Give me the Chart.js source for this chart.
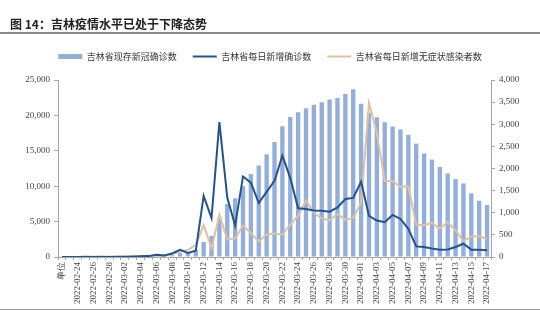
<!DOCTYPE html>
<html>
<head>
<meta charset="utf-8">
<script src="https://cdn.jsdelivr.net/npm/chart.js@4.4.0/dist/chart.umd.min.js"></script>
<style>
    body { margin: 0; background: #fff; }
    #box { position: relative; width: 540px; height: 320px; overflow: hidden; }
    #titolo { position: absolute; left: 10px; top: 15px; font: bold 12px "Noto Sans CJK SC", sans-serif; color: #222; z-index: 2; }
    .riga { position: absolute; left: 0; width: 540px; background: #8a8a8a; z-index: 2; }
</style>
</head>
<body>
<div id="box">
    <div id="titolo">图 14：吉林疫情水平已处于下降态势</div>
    <div class="riga" style="top:32px;height:2px;"></div>
    <div class="riga" style="top:309px;height:1px;background:#9a9a9a;"></div>
    <canvas id="grafico" width="540" height="320"></canvas>
</div>
<script>
// categorie (la prima è la riga "单位" della tabella originale)
var date = ["单位", "2022-02-23", "2022-02-24", "2022-02-25", "2022-02-26", "2022-02-27", "2022-02-28",
    "2022-03-01", "2022-03-02", "2022-03-03", "2022-03-04", "2022-03-05", "2022-03-06", "2022-03-07",
    "2022-03-08", "2022-03-09", "2022-03-10", "2022-03-11", "2022-03-12", "2022-03-13", "2022-03-14",
    "2022-03-15", "2022-03-16", "2022-03-17", "2022-03-18", "2022-03-19", "2022-03-20", "2022-03-21",
    "2022-03-22", "2022-03-23", "2022-03-24", "2022-03-25", "2022-03-26", "2022-03-27", "2022-03-28",
    "2022-03-29", "2022-03-30", "2022-03-31", "2022-04-01", "2022-04-02", "2022-04-03", "2022-04-04",
    "2022-04-05", "2022-04-06", "2022-04-07", "2022-04-08", "2022-04-09", "2022-04-10", "2022-04-11",
    "2022-04-12", "2022-04-13", "2022-04-14", "2022-04-15", "2022-04-16", "2022-04-17"];

// 吉林省现存新冠确诊数 (asse sinistro)
var esistenti = [null, 20, 20, 25, 25, 30, 30, 35, 40, 50, 60, 80, 100, 150,
    250, 550, 700, 1000, 2110, 2990, 5600, 7490, 8290, 10010, 11700, 12920, 14510, 16240,
    18480, 19780, 20450, 21010, 21490, 21850, 22230, 22470, 23030, 23680, 21630, 20370, 19750, 19040,
    18440, 18020, 17250, 16010, 14610, 13760, 12720, 11800, 11000, 10390, 8990, 7950, 7350];

// 吉林省每日新增确诊数 (asse destro)
var nuoviConfermati = [0, 2, 1, 3, 2, 4, 2, 5, 6, 10, 15, 20, 50, 35,
    80, 160, 90, 140, 1380, 880, 3050, 1345, 710, 1820, 1680, 1220, 1470, 1720,
    2290, 1790, 1100, 1085, 1050, 1045, 1025, 1120, 1310, 1335, 1700, 930, 823, 785,
    950, 860, 636, 240, 225, 190, 166, 170, 225, 300, 166, 166, 155];

// 吉林省每日新增无症状感染者数 (asse destro)
var nuoviAsintomatici = [0, 1, 2, 1, 3, 2, 4, 3, 5, 8, 10, 20, 35, 30,
    70, 120, 160, 270, 720, 200, 955, 400, 420, 711, 538, 352, 510, 530,
    505, 730, 930, 1280, 1000, 870, 830, 973, 838, 880, 1230, 3480, 2800, 1720,
    1720, 1580, 1600, 730, 720, 770, 640, 790, 600, 360, 464, 470, 410];

var nomi = ["吉林省现存新冠确诊数", "吉林省每日新增确诊数", "吉林省每日新增无症状感染者数"];

var fontNumeri = { family: "'Liberation Serif', 'Times New Roman', serif", size: 9 };
var coloreAsse = "#a6a6a6";

// un po' di spazio in più sotto la legenda
var spazioLegenda = {
    id: "spazioLegenda",
    beforeInit: function (chart) {
        var fitOriginale = chart.legend.fit;
        chart.legend.fit = function () {
            fitOriginale.bind(chart.legend)();
            this.height += 9;
        };
    }
};

var ctx = document.getElementById("grafico");
var grafico = new Chart(ctx, {
    type: "bar",
    plugins: [spazioLegenda],
    data: {
        labels: date,
        datasets: [{
            type: "bar",
            label: nomi[0],
            data: esistenti,
            backgroundColor: "#93aedb",
            borderWidth: 0,
            barPercentage: 0.55,
            categoryPercentage: 1,
            yAxisID: "y",
            pointStyle: "rect",
            order: 2
        }, {
            type: "line",
            label: nomi[1],
            data: nuoviConfermati,
            borderColor: "#24528f",
            backgroundColor: "#24528f",
            borderWidth: 2,
            pointRadius: 0,
            tension: 0,
            yAxisID: "y1",
            pointStyle: "line",
            order: 0
        }, {
            type: "line",
            label: nomi[2],
            data: nuoviAsintomatici,
            borderColor: "#dfc2a4",
            backgroundColor: "#dfc2a4",
            borderWidth: 2,
            pointRadius: 0,
            tension: 0,
            yAxisID: "y1",
            pointStyle: "line",
            order: 1
        }]
    },
    options: {
        responsive: false,
        animation: false,
        layout: { padding: { top: 36, left: 0, right: 0, bottom: 0 } },
        plugins: {
            tooltip: { enabled: false },
            legend: {
                position: "top",
                labels: {
                    usePointStyle: true,
                    pointStyleWidth: 24,
                    boxHeight: 5,
                    padding: 16,
                    color: "#333",
                    font: { family: "'Noto Sans CJK SC', sans-serif", size: 9 },
                    sort: function (a, b) { return a.datasetIndex - b.datasetIndex; }
                }
            }
        },
        scales: {
            x: {
                offset: true,
                grid: { display: true, drawOnChartArea: false, offset: true, tickLength: 3, color: coloreAsse },
                border: { color: coloreAsse },
                ticks: {
                    autoSkip: false,
                    maxRotation: 90,
                    minRotation: 90,
                    padding: 2,
                    color: "#444",
                    font: fontNumeri,
                    callback: function (val, i) { return i % 2 === 0 ? date[i] : ""; }
                },
                afterFit: function (s) { s.height = 63; }
            },
            y: {
                position: "left",
                min: 0,
                max: 25000,
                grid: { display: true, drawOnChartArea: false, tickLength: 4, color: coloreAsse },
                border: { color: coloreAsse },
                ticks: {
                    stepSize: 5000,
                    padding: 4,
                    color: "#444",
                    font: fontNumeri,
                    callback: function (v) { return v.toLocaleString("en-US"); }
                },
                afterFit: function (s) { s.width = 58; }
            },
            y1: {
                position: "right",
                min: 0,
                max: 4000,
                grid: { display: true, drawOnChartArea: false, tickLength: 4, color: coloreAsse },
                border: { color: coloreAsse },
                ticks: {
                    stepSize: 500,
                    padding: 4,
                    color: "#444",
                    font: fontNumeri,
                    callback: function (v) { return v.toLocaleString("en-US"); }
                },
                afterFit: function (s) { s.width = 49; }
            }
        }
    }
});
</script>
</body>
</html>
